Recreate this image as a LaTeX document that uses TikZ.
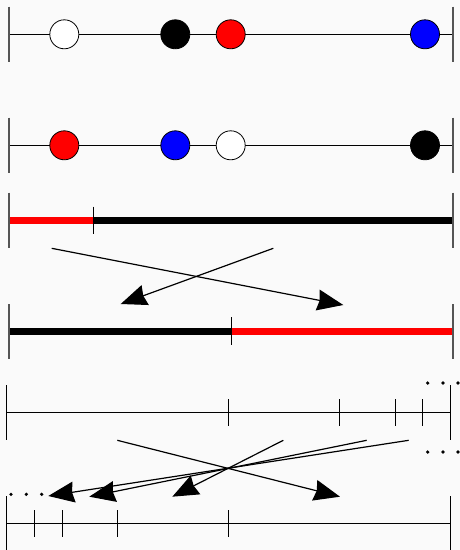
\documentclass[tikz,border=0pt]{standalone}
\usetikzlibrary{arrows.meta}
\definecolor{bg}{RGB}{250,250,250}
\definecolor{bargray}{RGB}{85,85,85}
\begin{document}
\begin{tikzpicture}[x=1pt,y=-1pt,
  endbar/.style={draw=bargray,line width=2pt},
  blackbar/.style={draw=black,line width=1.4pt},
  axis/.style={draw=black,line width=1pt},
  ball/.style={circle,draw=black,line width=0.8pt,minimum size=29pt,inner sep=0pt},
  heavy/.style={line width=6.5pt},
  tickmark/.style={draw=black,line width=1.1pt},
  arr/.style={draw=black,line width=1.2pt,-{Stealth[length=26pt,width=21pt,inset=2pt]}},
  dotmark/.style={circle,fill=black,inner sep=0pt,minimum size=3.6pt}]
% canvas
\fill[bg] (0,0) rectangle (460,550);
\useasboundingbox (0,0) rectangle (460,550);

% ---- row 1: four balls on a line
\coordinate (r1l) at (9,34.3);
\coordinate (r1r) at (452.7,34.3);
\draw[axis] (r1l) -- (r1r);
\draw[endbar] (9,6.7) -- (9,61.7);
\draw[endbar] (452.7,6.7) -- (452.7,61.7);
\node[ball,fill=white] (w1) at (64.3,34.3) {};
\node[ball,fill=black] (k1) at (175.3,34.3) {};
\node[ball,fill=red]   (r1) at (230.7,34.3) {};
\node[ball,fill=blue]  (b1) at (425,34.3) {};

% ---- row 2: permuted balls
\coordinate (r2l) at (9,145.3);
\coordinate (r2r) at (452.7,145.3);
\draw[axis] (r2l) -- (r2r);
\draw[endbar] (9,117.7) -- (9,173.3);
\draw[endbar] (452.7,117.7) -- (452.7,173.3);
\node[ball,fill=red]   (r2) at (64.3,145.3) {};
\node[ball,fill=blue]  (b2) at (175.3,145.3) {};
\node[ball,fill=white] (w2) at (230.7,145.3) {};
\node[ball,fill=black] (k2) at (425,145.3) {};

% ---- row 3: red / black split
\coordinate (s3a) at (9,220.3);
\coordinate (s3m) at (93,220.3);
\coordinate (s3b) at (453,220.3);
\draw[heavy,red] (s3a) -- (s3m);
\draw[heavy,black] (s3m) -- (s3b);
\draw[endbar] (9,192.7) -- (9,247.7);
\draw[endbar] (453,192.7) -- (453,247.7);
\draw[tickmark,line width=1pt] (93,206.7) -- (93,234);

% ---- row 4: black / red split
\coordinate (s4a) at (9,331.3);
\coordinate (s4m) at (231.7,331.3);
\coordinate (s4b) at (453,331.3);
\draw[heavy,black] (s4a) -- (s4m);
\draw[heavy,red] (s4m) -- (s4b);
\draw[endbar] (9,304) -- (9,359);
\draw[endbar] (453,304) -- (453,359);
\draw[tickmark,line width=1pt] (231.7,317.3) -- (231.7,345);

% swap arrows between rows 3 and 4
\coordinate (p1) at (51.7,248.3);
\coordinate (q1) at (343.3,305);
\coordinate (p2) at (273.3,248.3);
\coordinate (q2) at (120.7,304);
\draw[arr] (p1) -- (q1);
\draw[arr] (p2) -- (q2);

% ---- row 5: interval with geometric subdivisions
\coordinate (u5l) at (6.7,412.7);
\coordinate (u5r) at (450.3,412.7);
\draw[axis] (u5l) -- (u5r);
\draw[blackbar] (6.7,385) -- (6.7,440);
\draw[blackbar] (450.3,385) -- (450.3,440);
\foreach \x in {228.7,339.3,395.3,422.7}
  \draw[tickmark] (\x,399) -- (\x,426.3);
\foreach \x [count=\i] in {427.7,443,458}{
  \node[dotmark] (ta\i) at (\x,383) {};
  \node[dotmark] (tb\i) at (\x,452) {};
}

% ---- row 6: reversed subdivisions
\coordinate (u6l) at (6.7,523.7);
\coordinate (u6r) at (450.3,523.7);
\draw[axis] (u6l) -- (u6r);
\draw[blackbar] (6.7,496) -- (6.7,550);
\draw[blackbar] (450.3,496) -- (450.3,550);
\foreach \x in {34.3,62.3,117.3,228.7}
  \draw[tickmark] (\x,510) -- (\x,537.3);
\foreach \x [count=\i] in {11,26.3,41.7}
  \node[dotmark] (bl\i) at (\x,494.3) {};

% arrows from row 5 pieces to row 6 pieces
\coordinate (A0) at (117.3,440.3);
\coordinate (A1) at (340,496.7);
\coordinate (B0) at (283.3,440.3);
\coordinate (B1) at (172.3,496.7);
\coordinate (C0) at (366.7,440.3);
\coordinate (C1) at (89.3,496.7);
\coordinate (D0) at (408.7,440.3);
\coordinate (D1) at (48.3,496);
\draw[arr] (A0) -- (A1);
\draw[arr] (B0) -- (B1);
\draw[arr] (C0) -- (C1);
\draw[arr] (D0) -- (D1);
\end{tikzpicture}
\end{document}
